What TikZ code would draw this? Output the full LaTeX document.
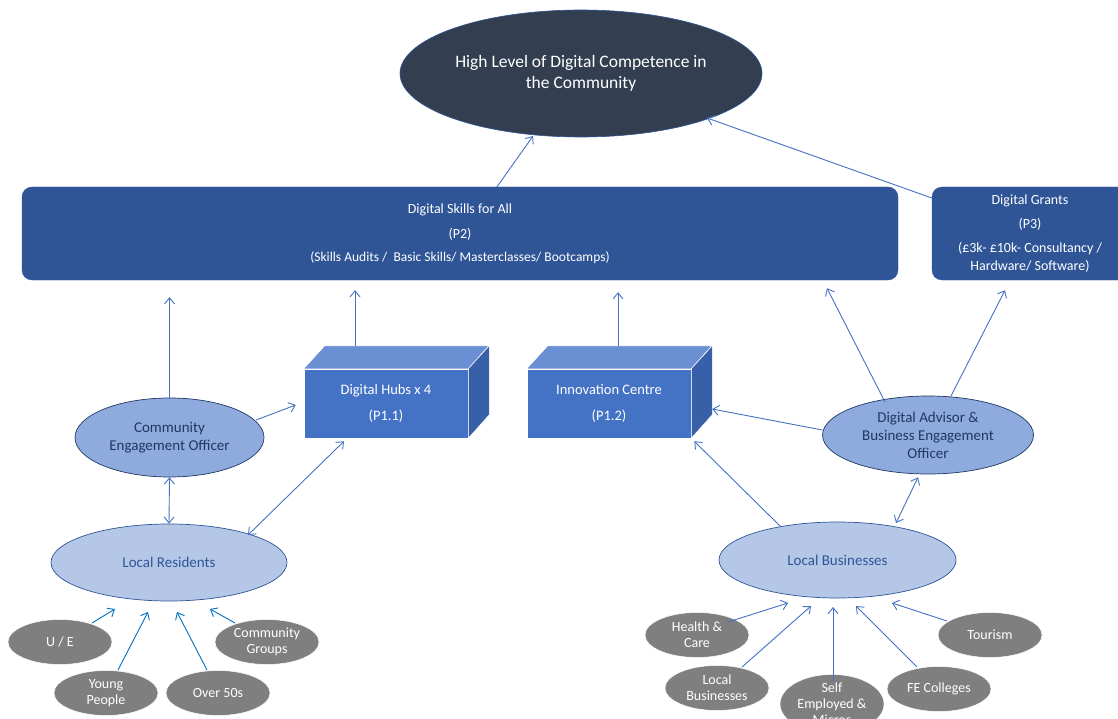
\documentclass[tikz,border=0pt]{standalone}
\usepackage{fontspec}
\setmainfont{Carlito}
\usetikzlibrary{arrows.meta,calc,shapes.geometric}
\definecolor{goalc}{HTML}{333F50}
\definecolor{navy}{HTML}{2F5597}
\definecolor{dnavy}{HTML}{1F3864}
\definecolor{frontc}{HTML}{4472C4}
\definecolor{topc}{HTML}{6A8FD2}
\definecolor{sidec}{HTML}{3760A8}
\definecolor{midc}{HTML}{8FAADC}
\definecolor{lightc}{HTML}{B4C7E7}
\definecolor{greyc}{HTML}{7F7F7F}
\definecolor{arrc}{HTML}{4472C4}
\definecolor{arrc2}{HTML}{0070C0}
\tikzset{
  arr/.style={draw=arrc, line width=0.9pt, -{Straight Barb[length=6pt,width=10pt]}},
  darr/.style={draw=arrc, line width=0.9pt, {Straight Barb[length=6pt,width=10pt]}-{Straight Barb[length=6pt,width=10pt]}},
  garr/.style={draw=arrc2, line width=0.9pt, -{Straight Barb[length=6pt,width=10pt]}},
  goalnode/.style={ellipse, fill=goalc, draw=navy, line width=0.6pt, inner sep=0pt, text=white, align=center, font=\fontsize{17.5}{21}\selectfont},
  bigbox/.style={rectangle, rounded corners=10pt, fill=navy, draw=navy, inner sep=0pt, text=white, align=center, font=\fontsize{14}{18}\selectfont},
  front/.style={rectangle, fill=frontc, draw=white, line width=0.5pt, minimum width=164pt, minimum height=69pt, inner sep=0pt, text=white, align=center, font=\fontsize{14.5}{26}\selectfont},
  midell/.style={ellipse, fill=midc, draw=dnavy, line width=0.7pt, inner sep=0pt, text=dnavy, align=center, font=\fontsize{15}{18}\selectfont},
  lightell/.style={ellipse, fill=lightc, draw=navy, line width=0.7pt, inner sep=0pt, text=navy, align=center, font=\fontsize{15}{18}\selectfont},
  greyell/.style={ellipse, fill=greyc, draw=white, line width=0.5pt, minimum width=104pt, minimum height=45pt, inner sep=0pt, text=white, align=center, font=\fontsize{14}{16}\selectfont},
}
\begin{document}
\begin{tikzpicture}[x=1pt,y=1pt]
\useasboundingbox (0,0) rectangle (1118,-719);
\fill[white] (0,0) rectangle (1118,-719);

% main nodes
\node[goalnode, minimum width=362pt, minimum height=127pt] (goal) at (581,-73.5) {High Level of Digital Competence in\\the Community};
\node[bigbox, minimum width=876pt, minimum height=93pt] (skills) at (460,-233.5) {Digital Skills for All\\[7pt](P2)\\[5pt]{\fontsize{13.5}{18}\selectfont(Skills Audits /\ \ Basic Skills/ Masterclasses/ Bootcamps)}};
\node[bigbox, minimum width=196pt, minimum height=93pt] (grants) at (1030,-233.5) {Digital Grants\\[6pt](P3)\\[6pt](£3k- £10k- Consultancy /\\Hardware/ Software)};

% cubes
\node[front] (hub) at (386,-403.5) {Digital Hubs x 4\\(P1.1)};
\node[front] (inno) at (609,-403.5) {Innovation Centre\\(P1.2)};
\foreach \n in {hub,inno}{
  \filldraw[fill=topc, draw=white, line width=0.5pt] (\n.north west) -- ++(21,23) -- ++(164,0) -- (\n.north east) -- cycle;
  \filldraw[fill=sidec, draw=white, line width=0.5pt] (\n.north east) -- ++(21,23) -- ++(0,-69) -- (\n.south east) -- cycle;
}

% ellipses
\node[midell, minimum width=189pt, minimum height=79pt] (ceo) at (169.5,-437.5) {Community\\Engagement Officer};
\node[lightell, minimum width=236pt, minimum height=77pt] (res) at (169,-562.5) {Local Residents};
\node[midell, minimum width=211pt, minimum height=78pt] (adv) at (928,-435) {Digital Advisor \&\\Business Engagement\\Officer};
\node[lightell, minimum width=237pt, minimum height=76pt] (lb) at (837.5,-560) {Local Businesses};

% grey ellipses
\node[greyell] (ue) at (60,-642) {U / E};
\node[greyell] (yp) at (106,-693) {Young\\People};
\node[greyell] (o50) at (218,-693) {Over 50s};
\node[greyell] (cg) at (267,-642) {Community\\Groups};
\node[greyell] (hc) at (697,-635) {Health \&\\Care};
\node[greyell] (lbs) at (717,-688) {Local\\Businesses};
\node[greyell] (se) at (832,-704) {Self\\Employed \&\\Micros};
\node[greyell] (fe) at (939,-689) {FE Colleges};
\node[greyell] (tour) at (990,-635) {Tourism};

% connectors
\draw[arr] ($(skills.north)+(37,0)$) -- ($(goal)+(-48,-62.5)$);
\draw[arr] ($(grants.west)+(0,35.5)$) -- ($(goal)+(126,-44.5)$);
\draw[arr] (ceo.north) -- ($(ceo.north |- skills.south)+(0,-17)$);
\draw[arr] ($(hub.north)+(-31,23)$) -- ($(skills.south)+(-105,-10)$);
\draw[arr] ($(inno.north)+(9,23)$) -- ($(skills.south)+(158,-12)$);
\draw[arr] ($(adv)+(-43,33)$) -- ($(skills.south)+(367,-8)$);
\draw[arr] ($(adv)+(23,39)$) -- ($(grants.south)+(-25,-10)$);
\draw[arr] ($(ceo)+(86.5,17.5)$) -- ($(hub.west)+(-8,-1.5)$);
\draw[darr] (ceo.south) -- (res.north);
\draw[darr] ($(res)+(79,27.5)$) -- ($(hub.south)+(-42,-3)$);
\draw[arr] ($(adv.west)+(0,5)$) -- ($(inno.east)+(21,-5.5)$);
\draw[arr] ($(lb)+(-57.5,34)$) -- ($(inno.south east)+(3,-3)$);
\draw[darr] ($(lb)+(58.5,37)$) -- ($(adv.south)+(-10,-3)$);

\draw[garr] ($(ue)+(32,19)$) -- ($(res)+(-54,-46.5)$);
\draw[garr] ($(yp)+(12,23)$) -- ($(res)+(-21,-49.5)$);
\draw[garr] ($(o50)+(-11,23)$) -- ($(res)+(8,-49.5)$);
\draw[garr] ($(cg)+(-32,19)$) -- ($(res)+(41,-46.5)$);

\draw[arr] ($(hc)+(31,13)$) -- ($(lb)+(-49.5,-43)$);
\draw[arr] ($(lbs)+(25,21)$) -- ($(lb)+(-26.5,-46)$);
\draw[arr] ($(se)+(1,22)$) -- ($(lb)+(-4.5,-47)$);
\draw[arr] ($(fe)+(-22,22)$) -- ($(lb)+(18.5,-46)$);
\draw[arr] ($(tour)+(-43,14)$) -- ($(lb)+(54.5,-43)$);
\end{tikzpicture}
\end{document}
